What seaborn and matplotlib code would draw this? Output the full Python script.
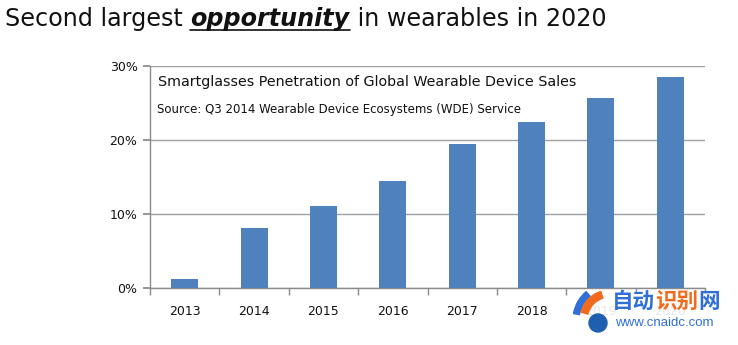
import matplotlib
matplotlib.use("Agg")
import matplotlib.pyplot as plt
import seaborn as sns
import pandas as pd
from matplotlib.patches import Circle, Wedge

years = ["2013", "2014", "2015", "2016", "2017", "2018", "2019", "2020"]
penetration = [1.2, 8.1, 11.1, 14.5, 19.4, 22.5, 25.7, 28.5]
y_ticks = [0, 10, 20, 30]
y_tick_labels = ["0%", "10%", "20%", "30%"]

title_parts = ["Second largest ", "opportunity", " in wearables in 2020"]
chart_title = "Smartglasses Penetration of Global Wearable Device Sales"
source_text = "Source: Q3 2014 Wearable Device Ecosystems (WDE) Service"
wm_parts = [("自动", "#2F6FD6"), ("识别", "#F26B1D"), ("网", "#2F6FD6")]
wm_url = "www.cnaidc.com"

sns.set_theme(style="white")
plt.rcParams["font.family"] = ["DejaVu Sans", "Noto Sans CJK SC"]

df = pd.DataFrame({"year": years, "value": penetration})

W, H = 738, 345
fig = plt.figure(figsize=(W / 100, H / 100), dpi=100)
ax = fig.add_axes([150 / W, 1 - 288 / H, (705 - 150) / W, (288 - 66) / H])

sns.barplot(data=df, x="year", y="value", color="#4F81BD", saturation=1,
            width=0.39, ax=ax, zorder=3, linewidth=0)

ax.set_ylim(0, 30)
ax.set_xlim(-0.5, len(years) - 0.5)
ax.set_yticks(y_ticks)
ax.set_yticklabels(y_tick_labels, fontsize=9, color="#111111")
ax.set_xlabel("")
ax.set_ylabel("")
ax.yaxis.grid(True, color="#A0A0A0", linewidth=1.0, zorder=0)
ax.set_axisbelow(True)

for s in ["top", "right"]:
    ax.spines[s].set_visible(False)
for s in ["left", "bottom"]:
    ax.spines[s].set_color("#8A8A8A")
    ax.spines[s].set_linewidth(1.0)

ax.tick_params(axis="y", which="major", direction="out", length=5,
               color="#8A8A8A", pad=4, left=True)
ax.set_xticks(range(len(years)))
ax.set_xticklabels(years, fontsize=9, color="#111111")
ax.set_xticks([i - 0.5 for i in range(len(years) + 1)], minor=True)
ax.tick_params(axis="x", which="major", length=0, pad=12)
ax.tick_params(axis="x", which="minor", direction="out", length=5,
               color="#8A8A8A", bottom=True)

fig.text(158 / W, 1 - 82 / H, chart_title, fontsize=10.3, color="#111111",
         va="center", ha="left")
fig.text(157 / W, 1 - 110 / H, source_text, fontsize=8.5, color="#111111",
         va="center", ha="left")

# Headline with bold italic underlined word
renderer = fig.canvas.get_renderer()
x = 5 / W
ty = 1 - 19 / H
styles = [dict(), dict(fontweight="bold", fontstyle="italic"), dict()]
for i, (part, st) in enumerate(zip(title_parts, styles)):
    t = fig.text(x, ty, part, fontsize=17.2, color="#111111", va="center",
                 ha="left", **st)
    bb = t.get_window_extent(renderer)
    if i == 1:
        uy = (bb.y0 + 1) / H
        fig.add_artist(plt.Line2D([bb.x0 / W, bb.x1 / W], [uy, uy],
                                  color="#111111", linewidth=1.2,
                                  transform=fig.transFigure))
    x = bb.x1 / W

# Watermark (mostly covers the last tick labels as in the source image)
fig.patches.append(plt.Rectangle((574 / W, 0), (W - 574) / W,
                                 1 - 288 / H - 4 / H,
                                 transform=fig.transFigure, color="white",
                                 alpha=0.9, zorder=5))
fig.patches.append(Wedge((6.10, 0.25), 0.37, 130, 170, width=0.06,
                         transform=fig.dpi_scale_trans, color="#2F6FD6",
                         zorder=6))
fig.patches.append(Wedge((6.10, 0.25), 0.30, 108, 165, width=0.07,
                         transform=fig.dpi_scale_trans, color="#F26B1D",
                         zorder=6))
fig.patches.append(Circle((5.98, 0.22), 0.09, transform=fig.dpi_scale_trans,
                          color="#1F5FAF", zorder=7))
x = 612 / W
for part, col in wm_parts:
    t = fig.text(x, 1 - 301 / H, part, fontsize=15.5, fontweight="bold",
                 color=col, family=["Noto Sans CJK SC"], va="center",
                 ha="left", zorder=8)
    x = t.get_window_extent(renderer).x1 / W
fig.text(615 / W, 1 - 323 / H, wm_url, fontsize=9.5, color="#2F6FD6",
         family=["Liberation Sans"], va="center", ha="left", zorder=8)

fig.savefig("out.png", dpi=100, facecolor="white")
